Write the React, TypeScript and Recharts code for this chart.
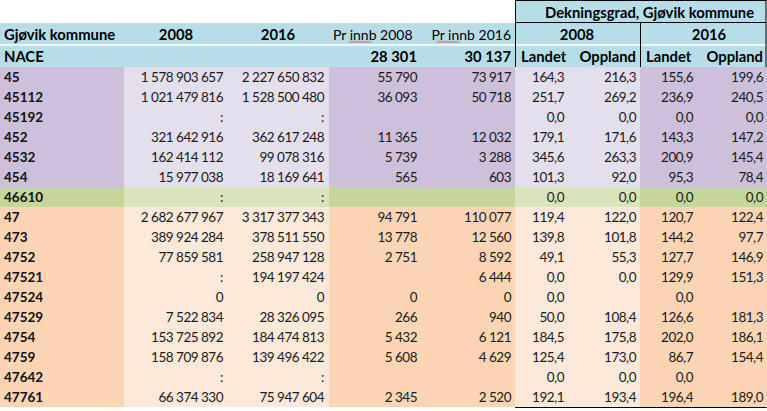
import React from "react";
import { BarChart, Bar, XAxis, YAxis, Customized } from "recharts";

// NACE codes (row labels)
const nace = ["45", "45112", "45192", "452", "4532", "454", "46610", "47", "473", "4752", "47521", "47524", "47529", "4754", "4759", "47642", "47761"];

// Omsetning, kroner
const value2008 = ["1 578 903 657", "1 021 479 816", ":", "321 642 916", "162 414 112", "15 977 038", ":", "2 682 677 967", "389 924 284", "77 859 581", ":", "0", "7 522 834", "153 725 892", "158 709 876", ":", "66 374 330"];
const value2016 = ["2 227 650 832", "1 528 500 480", ":", "362 617 248", "99 078 316", "18 169 641", ":", "3 317 377 343", "378 511 550", "258 947 128", "194 197 424", "0", "28 326 095", "184 474 813", "139 496 422", ":", "75 947 604"];

// Per innbygger
const perInnb2008 = ["55 790", "36 093", "", "11 365", "5 739", "565", "", "94 791", "13 778", "2 751", "", "0", "266", "5 432", "5 608", "", "2 345"];
const perInnb2016 = ["73 917", "50 718", "", "12 032", "3 288", "603", "", "110 077", "12 560", "8 592", "6 444", "0", "940", "6 121", "4 629", "", "2 520"];

// Dekningsgrad
const landet2008 = ["164,3", "251,7", "0,0", "179,1", "345,6", "101,3", "0,0", "119,4", "139,8", "49,1", "0,0", "0,0", "50,0", "184,5", "125,4", "0,0", "192,1"];
const oppland2008 = ["216,3", "269,2", "0,0", "171,6", "263,3", "92,0", "0,0", "122,0", "101,8", "55,3", "0,0", "", "108,4", "175,8", "173,0", "0,0", "193,4"];
const landet2016 = ["155,6", "236,9", "0,0", "143,3", "200,9", "95,3", "0,0", "120,7", "144,2", "127,7", "129,9", "0,0", "126,6", "202,0", "86,7", "0,0", "196,4"];
const oppland2016 = ["199,6", "240,5", "0,0", "147,2", "145,4", "78,4", "0,0", "122,4", "97,7", "146,9", "151,3", "", "181,3", "186,1", "154,4", "", "189,0"];

// header texts
const headerYears = ["2008", "2016"];
const innbyggere = ["28 301", "30 137"];

const rows = nace.map((code, i) => ({
  nace: code,
  span: 1,
  cells: [value2008[i], value2016[i], perInnb2008[i], perInnb2016[i], landet2008[i], oppland2008[i], landet2016[i], oppland2016[i]],
}));

const W = 767;
const H = 411;
const FONT = "Lato, 'Open Sans', sans-serif";
const FS = 13.5;
const HFS = 14.8;

// column layout: right edge for each value cell
const valueRight = [223, 324, 417, 511, 564, 636, 693, 763];
// background bands: [x0, x1, dark?]
const bands: [number, number, boolean][] = [
  [0, 124, true],
  [124, 329, false],
  [329, 515, true],
  [515, 640, false],
  [640, W, true],
];

const palette: Record<string, { dark: string; light: string }> = {
  "45": { dark: "#ccc0da", light: "#e4dfec" },
  "46": { dark: "#c4d79b", light: "#d8e4bc" },
  "47": { dark: "#fcd5b4", light: "#fde9d9" },
};
const BLUE = "#b7dee8";

const RowShape = (props: any) => {
  const { y, height, index } = props;
  const row = rows[index];
  const pal = palette[row.nace.slice(0, 2)];
  const cy = y + height / 2;
  return (
    <g>
      {bands.map(([x0, x1, dark], k) => (
        <rect key={k} x={x0} y={y} width={x1 - x0} height={height} fill={dark ? pal.dark : pal.light} />
      ))}
      <text x={4} y={cy} dominantBaseline="central" fontFamily={FONT} fontSize={FS} fontWeight={700} fill="#111">
        {row.nace}
      </text>
      {row.cells.map((c, k) => (
        <text key={k} x={valueRight[k]} y={cy} textAnchor="end" dominantBaseline="central" fontFamily={FONT} fontSize={FS} letterSpacing={-0.5} fill="#1a1a1a">
          {c}
        </text>
      ))}
    </g>
  );
};

// red spell-check squiggle under "innb"
const squiggle = (x0: number, x1: number, y: number) => {
  let d = `M${x0},${y}`;
  let up = true;
  for (let x = x0 + 1.5; x <= x1; x += 1.5) {
    d += ` L${x},${up ? y - 1.2 : y}`;
    up = !up;
  }
  return <path d={d} fill="none" stroke="#e03030" strokeWidth={0.8} />;
};

const Header = () => {
  const bold = { fontFamily: FONT, fontSize: HFS, fontWeight: 700, fill: "#000" } as const;
  const plain = { fontFamily: FONT, fontSize: 14, fontWeight: 400, fill: "#000" } as const;
  return (
    <g>
      <rect x={515} y={0} width={W - 515} height={23} fill={BLUE} />
      <rect x={0} y={23} width={W} height={44} fill={BLUE} />
      <line x1={0} x2={W} y1={45} y2={45} stroke="#ffffff" strokeWidth={1.5} />
      <text x={545} y={12} dominantBaseline="central" {...bold}>Dekningsgrad, Gjøvik kommune</text>
      <text x={4} y={34} dominantBaseline="central" {...bold}>Gjøvik kommune</text>
      <text x={176} y={34} textAnchor="middle" dominantBaseline="central" {...bold}>{headerYears[0]}</text>
      <text x={278} y={34} textAnchor="middle" dominantBaseline="central" {...bold}>{headerYears[1]}</text>
      <text x={333} y={34} dominantBaseline="central" {...plain}>Pr innb {headerYears[0]}</text>
      <text x={511} y={34} textAnchor="end" dominantBaseline="central" {...plain}>Pr innb {headerYears[1]}</text>
      {squiggle(349, 372, 42.5)}
      {squiggle(437, 460, 42.5)}
      <text x={577} y={34} textAnchor="middle" dominantBaseline="central" {...bold}>{headerYears[0]}</text>
      <text x={709} y={34} textAnchor="middle" dominantBaseline="central" {...bold}>{headerYears[1]}</text>
      <text x={4} y={56} dominantBaseline="central" {...bold}>NACE</text>
      <text x={417} y={56} textAnchor="end" dominantBaseline="central" {...bold}>{innbyggere[0]}</text>
      <text x={511} y={56} textAnchor="end" dominantBaseline="central" {...bold}>{innbyggere[1]}</text>
      <text x={521} y={56} dominantBaseline="central" {...bold}>Landet</text>
      <text x={636} y={56} textAnchor="end" dominantBaseline="central" {...bold}>Oppland</text>
      <text x={646} y={56} dominantBaseline="central" {...bold}>Landet</text>
      <text x={763} y={56} textAnchor="end" dominantBaseline="central" {...bold}>Oppland</text>
      {/* borders round the Dekningsgrad block */}
      <rect x={515.5} y={0.5} width={W - 516.5} height={407} fill="none" stroke="#000" strokeWidth={1} />
      <line x1={515} x2={W - 1} y1={22.5} y2={22.5} stroke="#000" strokeWidth={1} />
      <line x1={640.5} x2={640.5} y1={23} y2={407.5} stroke="#000" strokeWidth={1} />
    </g>
  );
};

export default function App() {
  return (
    <div style={{ position: "absolute", left: 0, top: 0, width: W, height: H, background: "#fff" }}>
      <BarChart
        width={W}
        height={H}
        data={rows}
        layout="vertical"
        barCategoryGap={0}
        margin={{ top: 67, right: 0, bottom: 4, left: 0 }}
      >
        <XAxis type="number" domain={[0, 1]} hide />
        <YAxis type="category" dataKey="nace" hide />
        <Bar dataKey="span" isAnimationActive={false} shape={<RowShape />} />
        <Customized component={Header} />
      </BarChart>
    </div>
  );
}
